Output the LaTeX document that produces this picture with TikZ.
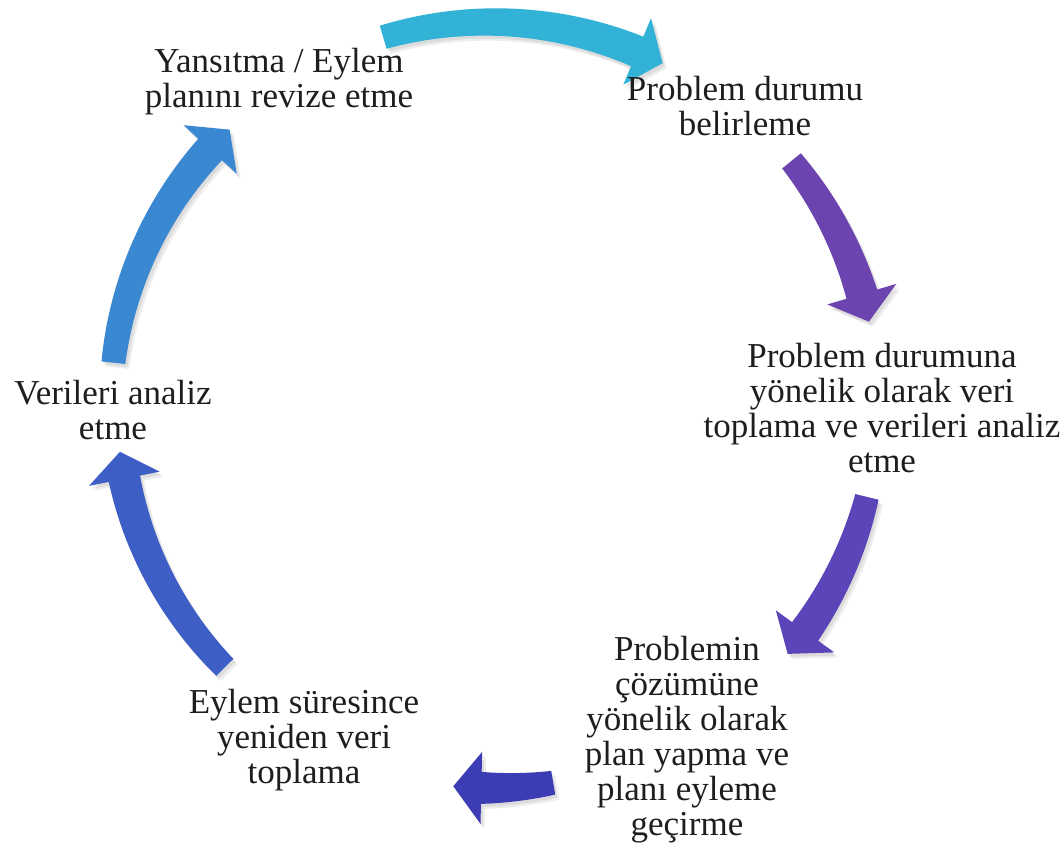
\documentclass[tikz,border=0pt]{standalone}
\usepackage{fontspec}
\setmainfont{Liberation Serif}
\definecolor{cA}{HTML}{33B2D8}
\definecolor{cB}{HTML}{6C44B0}
\definecolor{cC}{HTML}{5B45B8}
\definecolor{cD}{HTML}{3C3CB4}
\definecolor{cE}{HTML}{3D5EC4}
\definecolor{cF}{HTML}{3A88D2}
\definecolor{txt}{HTML}{1E1E1E}
\newcommand\cyclearrow[5]{% #1 tail angle, #2 head base angle, #3 tip angle, #4 radius, #5 fill options
  \fill[#5] plot[domain=0:1,samples=40,variable=\s]
      ({490+(#4+12+4*\s)*cos(#1+\s*(#2-#1))},{405-(#4+12+4*\s)*sin(#1+\s*(#2-#1))})
    -- ({490+(#4+36)*cos(#2)},{405-(#4+36)*sin(#2)})
    -- ({490+#4*cos(#3)},{405-#4*sin(#3)})
    -- ({490+(#4-36)*cos(#2)},{405-(#4-36)*sin(#2)})
    -- plot[domain=0:1,samples=40,variable=\s]
      ({490+(#4-16+4*\s)*cos(#2+\s*(#1-#2))},{405-(#4-16+4*\s)*sin(#2+\s*(#1-#2))})
    -- cycle;}
\newcommand\shadedcyclearrow[5]{%
  \cyclearrow{#1}{#2}{#3}{#4}{black,opacity=.07,shift={(4,5)}}%
  \cyclearrow{#1}{#2}{#3}{#4}{black,opacity=.07,shift={(2,3)}}%
  \cyclearrow{#1}{#2}{#3}{#4}{#5}}
\begin{document}
\begin{tikzpicture}[x=1pt,y=-1pt,
  lbl/.style={font=\fontsize{35}{35}\selectfont, align=center, inner sep=0pt, text=txt}]
\useasboundingbox[fill=white] (0,0) rectangle (1063,854);
% arrows
\shadedcyclearrow{106.2}{67.4}{63.2}{383}{cA}
\shadedcyclearrow{39}{16.6}{12.4}{388}{cB}
\shadedcyclearrow{-13.7}{-35.7}{-39.9}{388}{cC}
\shadedcyclearrow{-80.5}{-91.3}{-95.5}{383}{cD}
\shadedcyclearrow{224.7}{191.4}{187.2}{373}{cE}
\shadedcyclearrow{173.6}{137.6}{133.4}{379}{cF}
% labels
\node[lbl] (n1) at (279,82) {Yansıtma / Eylem\\planını revize etme};
\node[lbl] (n2) at (745,106) {Problem durumu\\belirleme};
\node[lbl] (n3) at (882,408) {Problem durumuna\\yönelik olarak veri\\toplama ve verileri analiz\\etme};
\node[lbl] (n4) at (687,740) {Problemin\\çözümüne\\yönelik olarak\\plan yapma ve\\planı eyleme\\geçirme};
\node[lbl] (n5) at (304,740) {Eylem süresince\\yeniden veri\\toplama};
\node[lbl] (n6) at (113,410) {Verileri analiz\\etme};
\end{tikzpicture}
\end{document}
